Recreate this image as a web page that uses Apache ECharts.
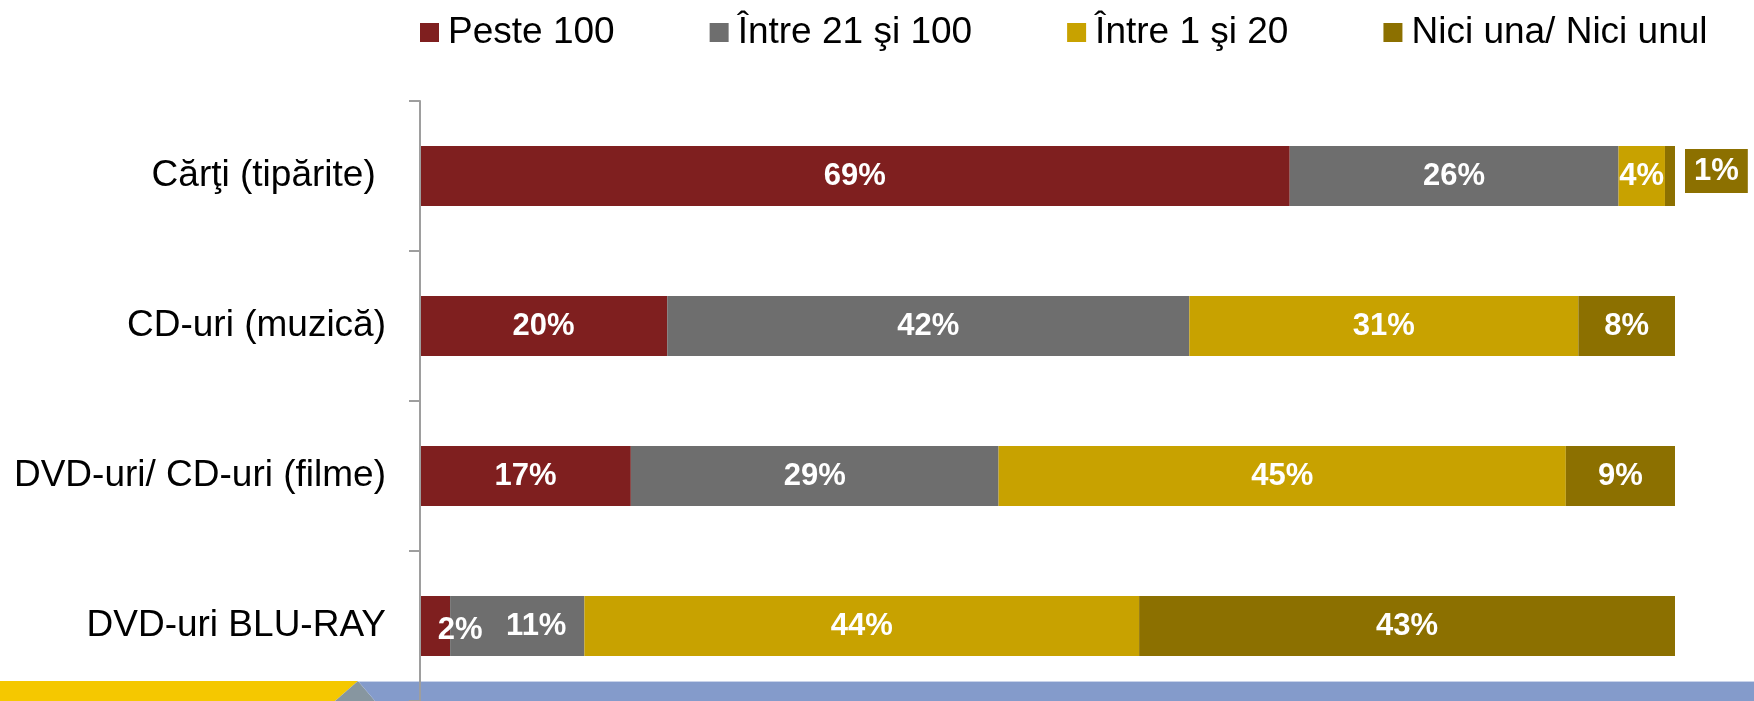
<!DOCTYPE html>
<html><head><meta charset="utf-8">
<script src="https://cdn.jsdelivr.net/npm/echarts@6/dist/echarts.min.js"></script>
<style>html,body{margin:0;padding:0;background:#fff}#c{width:1754px;height:701px}</style>
</head><body><div id="c"></div>
<script>
const categories = ['Cărţi (tipărite) ', 'CD-uri (muzică)', 'DVD-uri/ CD-uri (filme)', 'DVD-uri BLU-RAY'];
const seriesNames = ['Peste 100', 'Între 21 şi 100', 'Între 1 şi 20', 'Nici una/ Nici unul'];
const peste100 = [69.3, 19.7, 16.8, 2.4];
const intre21si100 = [26.2, 41.6, 29.3, 10.7];
const intre1si20 = [3.7, 31.0, 45.2, 44.2];
const niciuna = [0.8, 7.7, 8.7, 42.7];
const colors = ['#7F1F1F', '#6E6E6E', '#C8A200', '#8C7000'];

const FONT = '"Liberation Sans", Arial, sans-serif';
const valueLists = [peste100, intre21si100, intre1si20, niciuna];

function labelBase() {
  return { show: true, position: 'inside', color: '#fff', fontFamily: FONT, fontWeight: 'bold', fontSize: 31,
    formatter: p => Math.round(p.value) + '%' };
}

const series = valueLists.map((vals, si) => ({
  name: seriesNames[si], type: 'bar', stack: 'total', barCategoryGap: '60%',
  itemStyle: { color: colors[si] },
  label: labelBase(),
  emphasis: { disabled: true },
  data: vals.map((v, ci) => {
    const d = { value: v };
    if (si === 0 && ci === 3) d.label = { offset: [25, 4] };
    if (si === 1 && ci === 3) d.label = { offset: [19, 0] };
    if (si === 3 && ci === 0) d.label = { position: 'right', distance: 10, backgroundColor: '#8C7000', padding: [7, 9, 6, 9], offset: [0, -5] };
    return d;
  })
}));

const chart = echarts.init(document.getElementById('c'), null, { renderer: 'canvas' });
chart.setOption({
  animation: false,
  color: colors,
  legend: {
    top: 9, left: 415, itemGap: 95, itemWidth: 19, itemHeight: 19, icon: 'rect',
    textStyle: { fontFamily: FONT, fontSize: 37, color: '#000', lineHeight: 37, padding: [0, 0, 0, 4] },
    data: seriesNames
  },
  grid: { left: 420, right: 79, top: 101, bottom: 0, containLabel: false },
  xAxis: { type: 'value', min: 0, max: 100, show: false },
  yAxis: {
    type: 'category', data: categories, inverse: true,
    axisLine: { show: true, lineStyle: { color: '#9E9E9E', width: 2 } },
    axisTick: { show: true, length: 11, lineStyle: { color: '#9E9E9E', width: 2 } },
    axisLabel: { fontFamily: FONT, fontSize: 37, color: '#000', margin: 34 },
    z: 5
  },
  graphic: [
    { type: 'polygon', z: -1, shape: { points: [[0, 681], [358, 681], [335, 701], [0, 701]] }, style: { fill: '#F5C800' } },
    { type: 'polygon', z: -1, shape: { points: [[358, 681], [335, 701], [375, 701]] }, style: { fill: '#8796A0' } },
    { type: 'polygon', z: -1, shape: { points: [[358, 681], [1754, 681], [1754, 701], [375, 701]] }, style: { fill: '#849BCB' } },
    { type: 'line', z: -1, shape: { x1: 358, y1: 681.5, x2: 1754, y2: 681.5 }, style: { stroke: '#C9D3EA', lineWidth: 1 } }
  ],
  series
});
</script></body></html>
